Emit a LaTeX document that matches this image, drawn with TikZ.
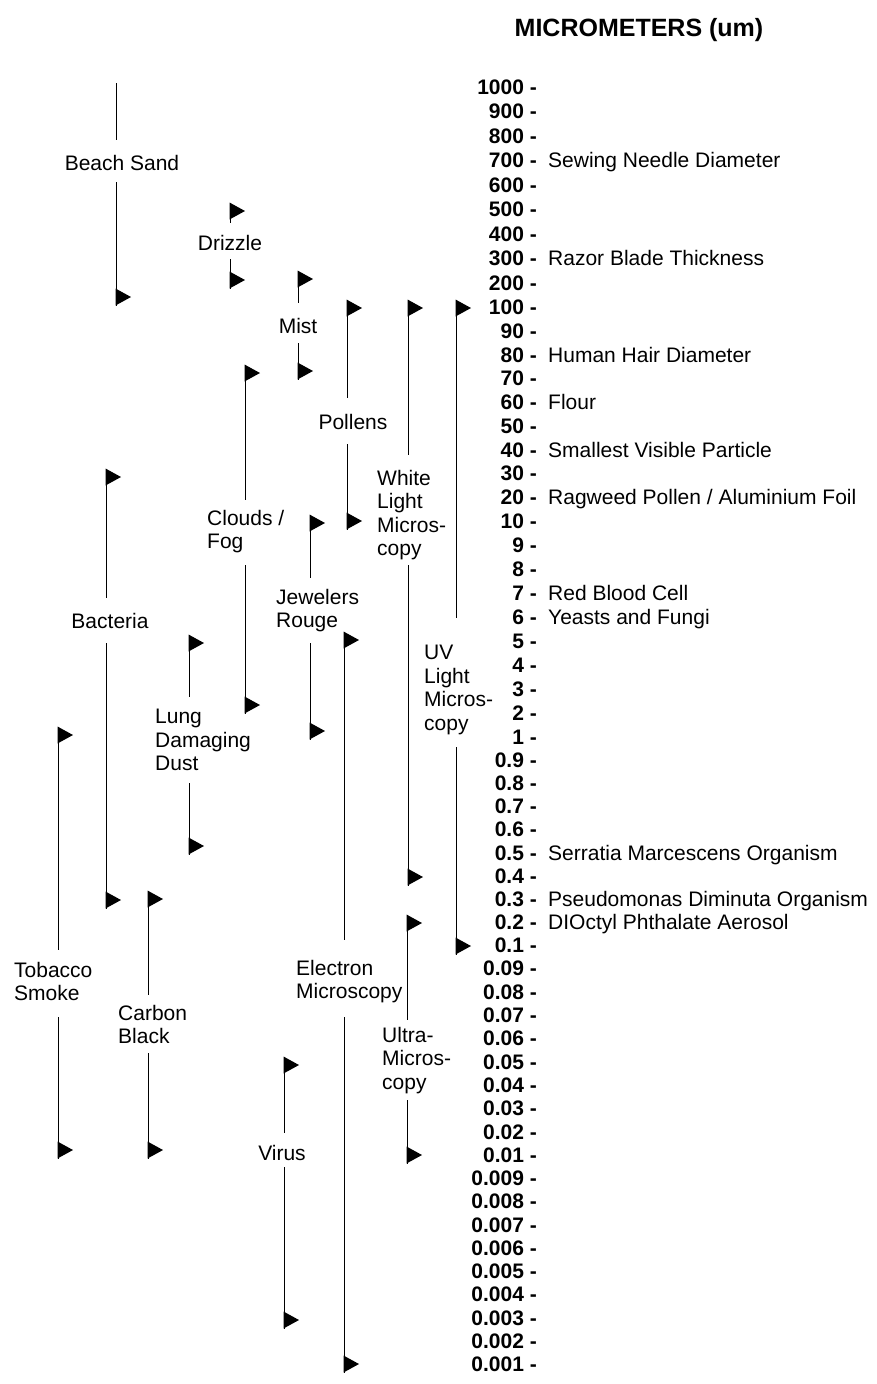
\documentclass[tikz,border=0pt]{standalone}
\usepackage{fontspec}
\setmainfont{Liberation Sans}
\newcommand\rangebar[6]{%
  \coordinate (#1t) at (#2,#3-8.5);
  \coordinate (#1u) at (#2,#4);
  \coordinate (#1l) at (#2,#5);
  \coordinate (#1b) at (#2,#6+8.5);
  \draw[barline] (#1t) -- (#1u);
  \draw[barline] (#1l) -- (#1b);
  \pic at (#2,#3) {flag};
  \pic at (#2,#6) {flag};
}
\begin{document}
\begin{tikzpicture}[x=1pt,y=-1pt,
  barline/.style={line width=1pt},
  flag/.pic={\fill (-0.5,-8.5) -- (15,0) -- (-0.5,8.5) -- cycle;},
  lbl/.style={inner sep=0pt,font=\fontsize{21}{23.5}\selectfont},
  mlbl/.style={lbl,align=left,anchor=north west},
  num/.style={inner sep=0pt,font=\fontsize{21}{23.5}\selectfont\bfseries,anchor=base east},
  ann/.style={inner sep=0pt,font=\fontsize{21}{23.5}\selectfont,anchor=base west}]
\useasboundingbox (0,0) rectangle (876,1384);
% title
\node[inner sep=0pt,font=\fontsize{25}{28}\selectfont\bfseries] (title) at (639,30) {MICROMETERS (um)};
% scale
\foreach \lab/\yy [count=\i] in {1000/87,900/111.4,800/135.9,700/160.3,600/184.8,500/209.2,400/233.7,300/258.1,200/282.6,100/307,
  90/330.8,80/354.6,70/378.3,60/402.1,50/425.9,40/449.7,30/473.4,20/497.2,10/521,
  9/545,8/569,7/593,6/617,5/641,4/665,3/689,2/713,1/737,
  0.9/760.1,0.8/783.2,0.7/806.3,0.6/829.4,0.5/852.6,0.4/875.7,0.3/898.8,0.2/921.9,0.1/945,
  0.09/968.3,0.08/991.7,0.07/1015,0.06/1038.3,0.05/1061.7,0.04/1085,0.03/1108.3,0.02/1131.7,0.01/1155,
  0.009/1178.2,0.008/1201.4,0.007/1224.7,0.006/1247.9,0.005/1271.1,0.004/1294.3,0.003/1317.6,0.002/1340.8,0.001/1364}
  {\node[num] (r\i) at (537,\yy+7.5) {\lab{} -};}
% annotations
\node[ann] (a1) at ([xshift=11pt]r4.base east) {Sewing Needle Diameter};
\node[ann] (a2) at ([xshift=11pt]r8.base east) {Razor Blade Thickness};
\node[ann] (a3) at ([xshift=11pt]r12.base east) {Human Hair Diameter};
\node[ann] (a4) at ([xshift=11pt]r14.base east) {Flour};
\node[ann] (a5) at ([xshift=11pt]r16.base east) {Smallest Visible Particle};
\node[ann] (a6) at ([xshift=11pt]r18.base east) {Ragweed Pollen / Aluminium Foil};
\node[ann] (a7) at ([xshift=11pt]r22.base east) {Red Blood Cell};
\node[ann] (a8) at ([xshift=11pt]r23.base east) {Yeasts and Fungi};
\node[ann] (a9) at ([xshift=11pt]r33.base east) {Serratia Marcescens Organism};
\node[ann] (a10) at ([xshift=11pt]r35.base east) {Pseudomonas Diminuta Organism};
\node[ann] (a11) at ([xshift=11pt]r36.base east) {DIOctyl Phthalate Aerosol};
% labels
\node[lbl] (bsL) at (122,163) {Beach Sand};
\node[lbl] (dsL) at (230,243) {Drizzle};
\node[lbl] (miL) at (298,326) {Mist};
\node[lbl] (poL) at (353,422) {Pollens};
\node[mlbl] (wlL) at (377,478-8) {White\\Light\\Micros-\\copy};
\node[mlbl] (uvL) at (424,653-8) {UV\\Light\\Micros-\\copy};
\node[mlbl] (cfL) at (207,518-8) {Clouds /\\Fog};
\node[mlbl] (jrL) at (276,597-8) {Jewelers\\Rouge};
\node[lbl] (baL) at (110,621) {Bacteria};
\node[mlbl] (ldL) at (155,717-8) {Lung\\Damaging\\Dust};
\node[mlbl] (tsL) at (14,970-8) {Tobacco\\Smoke};
\node[mlbl] (emL) at (296,968-8) {Electron\\Microscopy};
\node[mlbl] (cbL) at (118,1013-8) {Carbon\\Black};
\node[mlbl] (umL) at (382,1035-8) {Ultra-\\Micros-\\copy};
\node[lbl] (viL) at (282,1153) {Virus};
% beach sand (no top flag)
\coordinate (bst) at (116,83);
\coordinate (bsu) at (116,140);
\coordinate (bsl) at (116,182);
\coordinate (bsb) at (116,297+8.5);
\draw[barline] (bst) -- (bsu);
\draw[barline] (bsl) -- (bsb);
\pic at (116,297) {flag};
% ranges: name, x, top flag, upper end, lower start, bottom flag
\rangebar{ds}{230}{211}{223}{259}{280}
\rangebar{mi}{298}{279}{303}{343}{371}
\rangebar{po}{347}{308}{398}{444}{521}
\rangebar{wl}{408}{308}{455}{565}{877}
\rangebar{uv}{456}{308}{618}{747}{946}
\rangebar{cf}{245}{373}{500}{565}{705}
\rangebar{ba}{106}{477}{598}{643}{900}
\rangebar{jr}{310}{523}{578}{643}{731}
\rangebar{ld}{189}{643}{697}{783}{846}
\rangebar{em}{344}{640}{940}{1017}{1364}
\rangebar{ts}{58}{735}{950}{1017}{1150}
\rangebar{cb}{148}{899}{995}{1053}{1150}
\rangebar{um}{407}{923}{1020}{1100}{1155}
\rangebar{vi}{284}{1065}{1133}{1167}{1320}
\end{tikzpicture}
\end{document}
